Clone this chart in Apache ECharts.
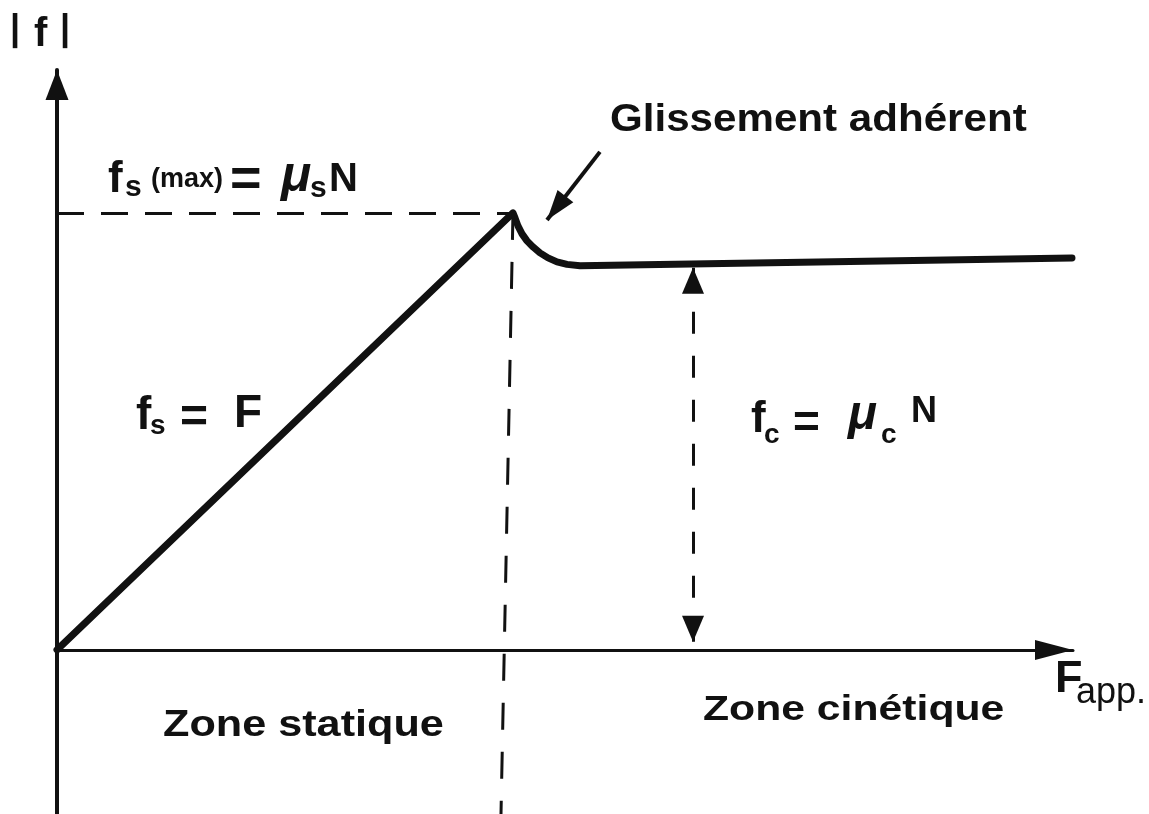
<!DOCTYPE html>
<html>
<head>
<meta charset="utf-8">
<title>Frottement statique / cinétique</title>
<script src="https://cdn.jsdelivr.net/npm/echarts@6/dist/echarts.min.js"></script>
<style>
  html, body { margin: 0; padding: 0; background: #fff; }
  #chart { width: 1149px; height: 814px; }
</style>
</head>
<body>
<div id="chart"></div>
<script>
// 一、数据
// |f| en fonction de F appliquée
const forceApp   = [0, 44.88, 45.08, 45.37, 45.77, 46.26, 46.85, 47.54, 48.33, 49.21, 50.20, 51.48, 99.9];
const frottement = [0, 75.36, 74.50, 73.12, 71.74, 70.53, 69.49, 68.46, 67.60, 66.91, 66.48, 66.25, 67.6];

// bornes des axes
const xRange = [0, 100];
const yRange = [-28.3, 100];

// pointillés et flèches
const fsMaxLine = [[0, 75.36], [44.88, 75.36]];
const staticLimit = [[44.88, 75.36], [43.7, -28.3]];
const fcArrow = [[62.6, 65.9], [62.6, 1.4]];
const glissArrow = [[53.44, 85.88], [48.23, 74.15]];

const INK = '#111';
const FONT = '"Liberation Sans", Arial, sans-serif';

// texte positionné (x, milieu vertical)
function txt(text, x, y, size, opt) {
  opt = opt || {};
  return {
    type: 'text', x: x, y: y, scaleX: opt.sx || 1, silent: true,
    style: {
      text: text, fill: INK, align: 'left', verticalAlign: 'middle',
      font: (opt.italic ? 'italic ' : '') + (opt.weight || 'bold') + ' ' + size + 'px ' + FONT
    }
  };
}

const chart = echarts.init(document.getElementById('chart'));

const seg = (pts, style, endSym) => [
  { coord: pts[0], symbol: endSym ? endSym[0] : 'none', symbolSize: endSym ? endSym[2] : 0, symbolOffset: [0, '50%'], lineStyle: style },
  { coord: pts[1], symbol: endSym ? endSym[1] : 'none', symbolSize: endSym ? endSym[2] : 0, symbolOffset: [0, '50%'] }
];

const option = {
  backgroundColor: '#fff',
  animation: false,
  grid: { left: 57, right: 76, top: 70, bottom: 0 },
  xAxis: {
    type: 'value', min: xRange[0], max: xRange[1],
    axisLine: { onZero: true, lineStyle: { color: INK, width: 3 }, symbol: ['none', 'triangle'], symbolSize: [20, 38], symbolOffset: [0, -19] },
    axisTick: { show: false }, axisLabel: { show: false }, splitLine: { show: false }
  },
  yAxis: {
    type: 'value', min: yRange[0], max: yRange[1],
    axisLine: { lineStyle: { color: INK, width: 4 }, symbol: ['none', 'triangle'], symbolSize: [23, 30], symbolOffset: [0, -15] },
    axisTick: { show: false }, axisLabel: { show: false }, splitLine: { show: false }
  },
  series: [
    {
      type: 'line',
      data: forceApp.map((x, i) => [x, frottement[i]]),
      showSymbol: false, symbol: 'none', clip: false, silent: true,
      lineStyle: { color: INK, width: 7, join: 'round', cap: 'round' }
    },
    {
      type: 'line', data: [], silent: true,
      markLine: {
        silent: true, animation: false,
        label: { show: false },
        emphasis: { disabled: true },
        data: [
          seg(fsMaxLine, { color: INK, width: 3, type: [27, 17] }),
          seg(staticLimit, { color: INK, width: 3, type: [27, 22] }),
          seg(fcArrow, { color: INK, width: 3, type: [22, 22] }, ['triangle', 'triangle', [22, 26]]),
          seg(glissArrow, { color: INK, width: 4, type: 'solid' }, ['none', 'triangle', [20, 30]])
        ]
      }
    }
  ],
  graphic: [
    // |f|
    txt('|', 10, 30, 36), txt('f', 34, 35, 40), txt('|', 60, 30, 36),
    // fs(max) = μs N
    txt('f', 108, 180, 44), txt('s', 125, 188, 30),
    txt('(max)', 151, 179.5, 27),
    txt('=', 230, 181, 54),
    txt('μ', 281, 177, 50, { italic: true }), txt('s', 310, 189, 30),
    txt('N', 329, 180, 40),
    // fs = F
    txt('f', 136, 416, 46), txt('s', 150, 426, 28),
    txt('=', 180, 419, 48),
    txt('F', 234, 414, 46),
    // fc = μc N
    txt('f', 751, 420, 44), txt('c', 764, 435, 28),
    txt('=', 793, 424, 46),
    txt('μ', 848, 416, 48, { italic: true }), txt('c', 881, 435, 28),
    txt('N', 911, 412, 36),
    // annotations
    txt('Glissement adhérent', 610, 120, 39, { sx: 1.08 }),
    txt('Zone statique', 163, 726, 36, { sx: 1.2 }),
    txt('Zone cinétique', 703, 710, 35, { sx: 1.22 }),
    txt('F', 1055, 680, 45), txt('app.', 1076, 693, 36, { weight: 'normal' })
  ]
};

chart.setOption(option);

window.addEventListener('resize', () => chart.resize());
</script>
</body>
</html>
